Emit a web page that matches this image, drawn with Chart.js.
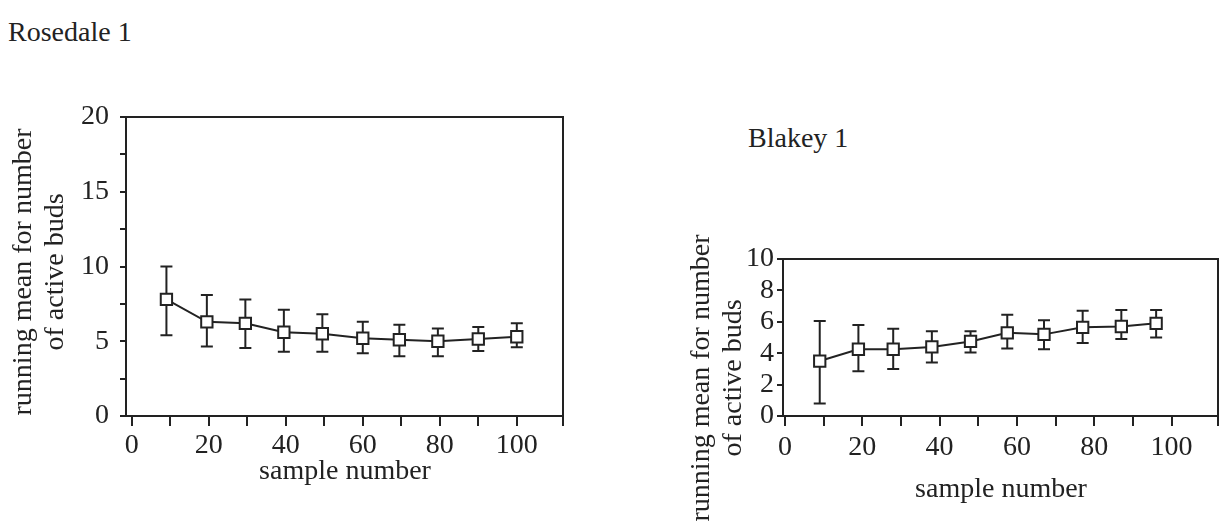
<!DOCTYPE html>
<html>
<head>
<meta charset="utf-8">
<script src="https://cdn.jsdelivr.net/npm/chart.js@4.4.1/dist/chart.umd.min.js"></script>
<style>
  html, body { margin: 0; padding: 0; background: #fff; }
  body { width: 1230px; height: 522px; position: relative; overflow: hidden;
         font-family: "Liberation Serif", "Times New Roman", serif; color: #222; }
  .panel { position: absolute; top: 0; height: 522px; }
  .name { position: absolute; font-size: 28px; line-height: 1; white-space: nowrap; }
</style>
</head>
<body>
<div class="name" style="left:8px; top:18px;">Rosedale 1</div>
<div class="name" style="left:748px; top:124px;">Blakey 1</div>
<div class="panel" style="left:0; width:620px;"><canvas id="rosedale"></canvas></div>
<div class="panel" style="left:620px; width:610px;"><canvas id="blakey"></canvas></div>

<script>
// Rosedale 1 - running mean with error bars
var rosedaleSample = [9, 19.5, 29.5, 39.5, 49.5, 60, 69.5, 79.5, 90, 100];
var rosedaleMean   = [7.8, 6.3, 6.2, 5.6, 5.5, 5.2, 5.1, 5.0, 5.15, 5.3];
var rosedaleUpper  = [10.0, 8.1, 7.8, 7.1, 6.8, 6.3, 6.1, 5.85, 5.95, 6.2];
var rosedaleLower  = [5.4, 4.65, 4.55, 4.3, 4.3, 4.2, 4.0, 4.0, 4.35, 4.6];

// Blakey 1
var blakeySample = [9, 19, 28, 38, 48, 57.5, 67, 77, 87, 96];
var blakeyMean   = [3.5, 4.25, 4.25, 4.4, 4.75, 5.3, 5.2, 5.65, 5.7, 5.9];
var blakeyUpper  = [6.05, 5.8, 5.55, 5.4, 5.4, 6.45, 6.1, 6.7, 6.75, 6.75];
var blakeyLower  = [0.8, 2.85, 3.0, 3.4, 4.05, 4.3, 4.25, 4.65, 4.9, 5.0];

// ticks
var xTicks = [0, 10, 20, 30, 40, 50, 60, 70, 80, 90, 100];
var rosedaleYTicks = [0, 2.5, 5, 7.5, 10, 12.5, 15, 17.5, 20];
var blakeyYTicks = [0, 2, 4, 6, 8, 10];

var yTitle = ['running mean for number', 'of active buds'];
var xTitle = 'sample number';

var ink = '#222';
var serif = '"Liberation Serif", "Times New Roman", serif';
var tickFont = { family: serif, size: 28 };

// vertical error bars, drawn under the square markers
var errorBars = {
  id: 'errorBars',
  beforeDatasetsDraw: function (chart, args, opts) {
    var ctx = chart.ctx;
    var xs = chart.scales.x, ys = chart.scales.y;
    var pts = chart.data.datasets[0].data;
    ctx.save();
    ctx.strokeStyle = ink;
    ctx.lineWidth = 2;
    pts.forEach(function (p, i) {
      var x = xs.getPixelForValue(p.x);
      var top = ys.getPixelForValue(opts.upper[i]);
      var bot = ys.getPixelForValue(opts.lower[i]);
      ctx.beginPath();
      ctx.moveTo(x, top); ctx.lineTo(x, bot);
      ctx.moveTo(x - 6, top); ctx.lineTo(x + 6, top);
      ctx.moveTo(x - 6, bot); ctx.lineTo(x + 6, bot);
      ctx.stroke();
    });
    ctx.restore();
  }
};

// top + right sides of the box
var frame = {
  id: 'frame',
  beforeDatasetsDraw: function (chart) {
    var a = chart.chartArea, ctx = chart.ctx;
    ctx.save();
    ctx.strokeStyle = ink;
    ctx.lineWidth = 2;
    ctx.beginPath();
    ctx.moveTo(a.left, a.top);
    ctx.lineTo(a.right, a.top);
    ctx.lineTo(a.right, a.bottom);
    ctx.stroke();
    ctx.restore();
  }
};

// axis titles placed like the original figure
var axisTitles = {
  id: 'axisTitles',
  afterDraw: function (chart, args, opts) {
    var ctx = chart.ctx;
    ctx.save();
    ctx.fillStyle = ink;
    ctx.font = '28px ' + serif;
    ctx.textAlign = 'center';
    ctx.textBaseline = 'middle';
    ctx.fillText(opts.x.text, opts.x.at[0], opts.x.at[1]);
    opts.y.lines.forEach(function (line, i) {
      ctx.save();
      ctx.translate(opts.y.at[0] + i * opts.y.gap, opts.y.at[1]);
      ctx.rotate(-Math.PI / 2);
      ctx.fillText(line, 0, 0);
      ctx.restore();
    });
    ctx.restore();
  }
};

function makeChart(id, c) {
  var pts = c.sample.map(function (s, i) { return { x: s, y: c.mean[i] }; });
  return new Chart(document.getElementById(id), {
    type: 'line',
    data: {
      datasets: [{
        data: pts,
        borderColor: ink,
        borderWidth: 2,
        tension: 0,
        pointStyle: 'rect',
        pointRadius: 8,
        pointBorderWidth: 2,
        pointBorderColor: ink,
        pointBackgroundColor: '#fff'
      }]
    },
    options: {
      responsive: true,
      maintainAspectRatio: false,
      animation: false,
      layout: { padding: c.padding },
      plugins: {
        legend: { display: false },
        tooltip: { enabled: false },
        errorBars: { upper: c.upper, lower: c.lower },
        axisTitles: c.titles
      },
      scales: {
        x: {
          type: 'linear',
          min: c.xMin,
          max: 112,
          afterBuildTicks: function (s) {
            s.ticks = xTicks.concat([s.max]).map(function (v) { return { value: v }; });
          },
          afterFit: function (s) { s.height = 106; },
          ticks: {
            font: tickFont, color: ink, padding: c.xPad, maxRotation: 0, autoSkip: false,
            callback: function (v) { return (v % 20 === 0 && v <= 100) ? String(v) : ''; }
          },
          grid: { drawOnChartArea: false, drawTicks: true, tickLength: 10, color: ink, lineWidth: 2 },
          border: { display: true, color: ink, width: 2 }
        },
        y: {
          min: 0,
          max: c.yMax,
          afterBuildTicks: function (s) {
            s.ticks = c.yTicks.map(function (v) { return { value: v }; });
          },
          afterFit: function (s) { s.width = c.yWidth; },
          ticks: {
            font: tickFont, color: ink, padding: c.yPad, autoSkip: false,
            callback: function (v) { return v % c.yLabelStep === 0 ? String(v) : ''; }
          },
          grid: { drawOnChartArea: false, drawTicks: true, tickLength: 6, color: ink, lineWidth: 2 },
          border: { display: true, color: ink, width: 2 }
        }
      }
    },
    plugins: [frame, errorBars, axisTitles]
  });
}

makeChart('rosedale', {
  sample: rosedaleSample, mean: rosedaleMean, upper: rosedaleUpper, lower: rosedaleLower,
  xMin: -1.5, yMax: 20, yTicks: rosedaleYTicks, yLabelStep: 5,
  yWidth: 126, xPad: 3, yPad: 11,
  padding: { top: 117, right: 57, left: 0, bottom: 0 },
  titles: {
    x: { text: xTitle, at: [345, 472] },
    y: { lines: yTitle, at: [24, 272], gap: 32 }
  }
});

makeChart('blakey', {
  sample: blakeySample, mean: blakeyMean, upper: blakeyUpper, lower: blakeyLower,
  xMin: -0.5, yMax: 10, yTicks: blakeyYTicks, yLabelStep: 2,
  yWidth: 163, xPad: 5, yPad: 3,
  padding: { top: 259, right: 12, left: 0, bottom: 0 },
  titles: {
    x: { text: xTitle, at: [381, 490] },
    y: { lines: yTitle, at: [82, 378], gap: 32 }
  }
});
</script>
</body>
</html>
